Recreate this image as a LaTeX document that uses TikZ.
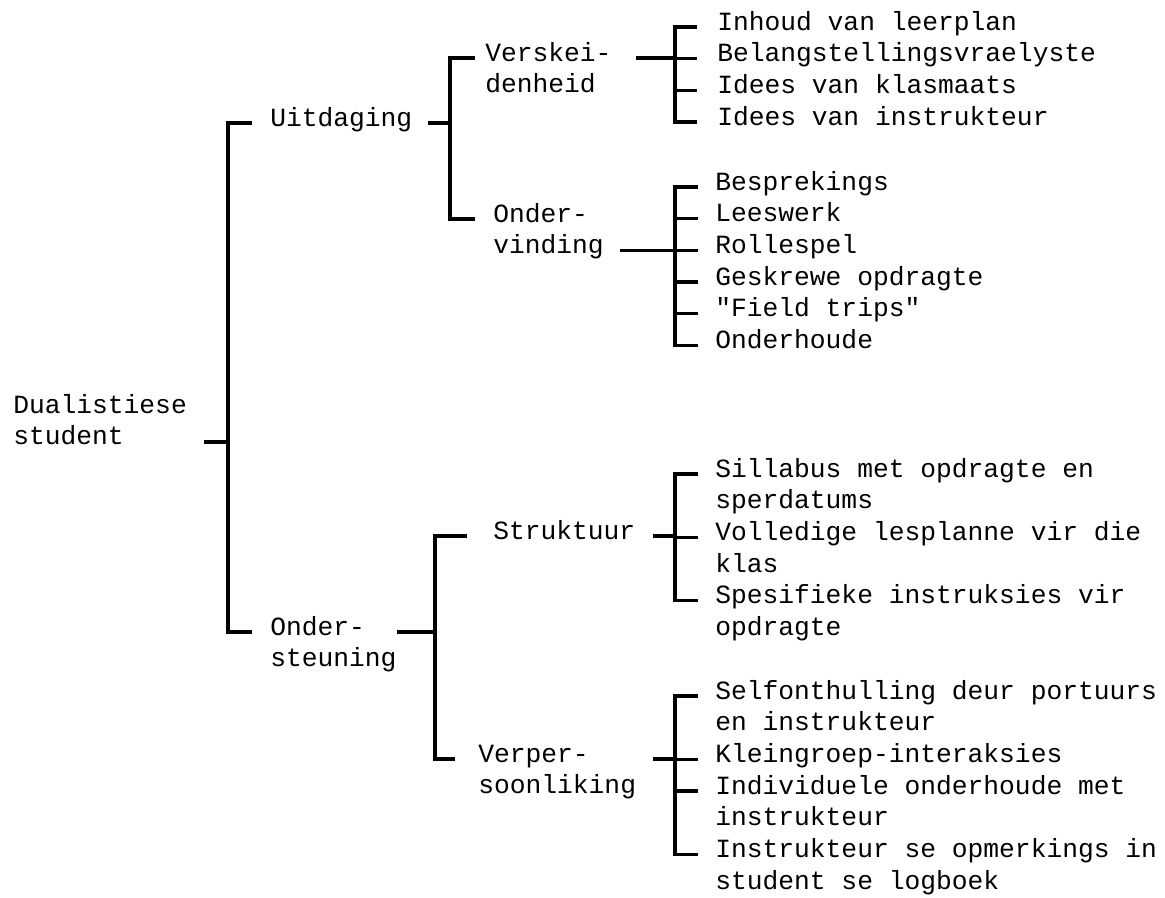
\documentclass[tikz,border=0pt]{standalone}
\usepackage{fontspec}
\setmonofont{Liberation Mono}
\usetikzlibrary{positioning}
% two lines, baseline on the first one
\newcommand{\twolines}[2]{\vtop{\hbox{\strut#1}\hbox{\strut#2}}}

\begin{document}
\begin{tikzpicture}
	[x=0.25mm,y=-0.25mm,
	lbl/.style={anchor=mid west,inner sep=0pt,font=\ttfamily\fontsize{18.7}{22.55}\selectfont},
	branch/.style={line width=2.4pt}]
	\useasboundingbox (0,0) rectangle (1165,898);
	% labels of the tree
	\node at (13,410) [lbl] (dual) {\twolines{Dualistiese}{student}};
	\node at (270,123) [lbl] (uit) {Uitdaging};
	\node at (270,632) [lbl] (ondst) {\twolines{Onder-}{steuning}};
	\node at (485,58) [lbl] (versk) {\twolines{Verskei-}{denheid}};
	\node at (493,219) [lbl] (onderv) {\twolines{Onder-}{vinding}};
	\node at (493,536) [lbl] (strukt) {Struktuur};
	\node at (478,759) [lbl] (verper) {\twolines{Verper-}{soonliking}};
	\foreach \t [count=\i] in {Inhoud van leerplan,Belangstellingsvraelyste,Idees van klasmaats,Idees van instrukteur}
		\node at (717,{27+(\i-1)*31.7}) [lbl] (v\i) {\t};
	\foreach \t [count=\i] in {Besprekings,Leeswerk,Rollespel,Geskrewe opdragte,"Field trips",Onderhoude}
		\node at (715,{187+(\i-1)*31.7}) [lbl] (o\i) {\t};
	\node at (715,474) [lbl] (s1) {\twolines{Sillabus met opdragte en}{sperdatums}};
	\node at (715,537.4) [lbl] (s2) {\twolines{Volledige lesplanne vir die}{klas}};
	\node at (715,600.8) [lbl] (s3) {\twolines{Spesifieke instruksies vir}{opdragte}};
	\node at (715,696) [lbl] (p1) {\twolines{Selfonthulling deur portuurs}{en instrukteur}};
	\node at (715,759.4) [lbl] (p2) {Kleingroep-interaksies};
	\node at (715,791) [lbl] (p3) {\twolines{Individuele onderhoude met}{instrukteur}};
	\node at (715,854.5) [lbl] (p4) {\twolines{Instrukteur se opmerkings in}{student se logboek}};
	% junctions on the brackets
	\coordinate (jdual) at (228,442);
	\coordinate (juit) at (450,123);
	\coordinate (jondst) at (435,632);
	\coordinate (jversk) at (675,58);
	\coordinate (jonderv) at (675,250.5);
	\coordinate (jstrukt) at (675,536);
	\coordinate (jverper) at (675,759);
	% root
	\draw [branch] ([xshift=4.25mm]dual.east |- jdual) -- (jdual);
	\draw [branch] ([xshift=-4.5mm]uit.mid west) -| (jdual) |- ([xshift=-4.5mm]ondst.mid west);
	% Uitdaging
	\draw [branch] ([xshift=3.75mm]uit.east |- juit) -- (juit);
	\draw [branch] ([xshift=-2.5mm]versk.mid west) -| (juit) |- ([xshift=-4.5mm]onderv.mid west);
	\draw [branch] ([xshift=6mm]versk.east |- jversk) -- (jversk);
	\draw [branch] ([xshift=-5mm]v1.mid west) -| (jversk) |- ([xshift=-5mm]v4.mid west);
	\foreach \c in {v2,v3}
		\draw [branch] (jversk |- \c.mid west) -- ([xshift=-5mm]\c.mid west);
	\draw [branch] ([xshift=4mm]onderv.east |- jonderv) -- (jonderv);
	\draw [branch] ([xshift=-4.25mm]o1.mid west) -| (jonderv) |- ([xshift=-4.25mm]o6.mid west);
	\foreach \c in {o2,o3,o4,o5}
		\draw [branch] (jonderv |- \c.mid west) -- ([xshift=-4.25mm]\c.mid west);
	% Ondersteuning
	\draw [branch] (ondst.east |- jondst) -- (jondst);
	\draw [branch] ([xshift=-6.5mm]strukt.mid west) -| (jondst) |- ([xshift=-5.75mm]verper.mid west);
	\draw [branch] ([xshift=4.25mm]strukt.east |- jstrukt) -- (jstrukt);
	\draw [branch] ([xshift=-4.25mm]s1.mid west) -| (jstrukt) |- ([xshift=-4.25mm]s3.mid west);
	\draw [branch] (jstrukt |- s2.mid west) -- ([xshift=-4.25mm]s2.mid west);
	\draw [branch] ([xshift=4.25mm]verper.east |- jverper) -- (jverper);
	\draw [branch] ([xshift=-4.25mm]p1.mid west) -| (jverper) |- ([xshift=-4.25mm]p4.mid west);
	\foreach \c in {p2,p3}
		\draw [branch] (jverper |- \c.mid west) -- ([xshift=-4.25mm]\c.mid west);
\end{tikzpicture}
\end{document}
